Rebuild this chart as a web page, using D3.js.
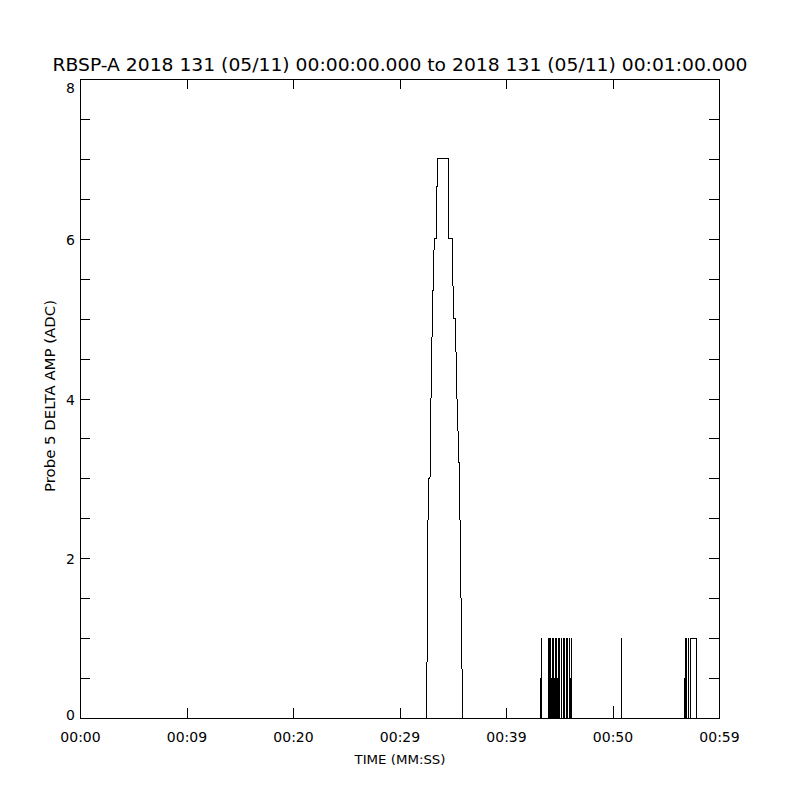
<!DOCTYPE html>
<html>
<head>
<meta charset="utf-8">
<script src="https://cdn.jsdelivr.net/npm/d3@7"></script>
<style>
  body { margin: 0; background: #fff; }
  text { font-family: "DejaVu Sans", sans-serif; fill: #000; }
</style>
</head>
<body>
<div id="chart"></div>
<script>
// time in seconds after 00:00:00, amplitude in ADC
var peakTimes = [32.545, 32.629, 32.704, 32.864, 32.958, 33.080, 33.268, 33.474, 33.549,
                 34.582, 34.601, 34.958, 35.071, 35.239, 35.399, 35.634, 35.728, 35.822, 35.944]
var peakAmps  = [0, 1.5, 3, 3, 4, 5, 6, 6, 7,
                 7, 6, 6, 5, 5, 4, 3, 2, 1, 0]

// short single-sample spikes after the main peak
var spikeTimes = [43.19, 43.29, 43.93, 44.00, 44.07, 44.16, 44.25, 44.35, 44.46, 44.55,
                  44.63, 44.72, 44.82, 44.91, 45.02, 45.12, 45.19, 45.31, 45.40, 45.49,
                  45.59, 45.68, 45.77, 45.90, 45.99, 46.08,
                  50.08, 50.77, 50.83,
                  56.74, 56.84, 56.93, 57.06, 57.12]
var spikeAmps  = [0.5, 1, 1, 0.5, 1, 1, 0.5, 1, 1, 0.5,
                  1, 1, 0.5, 1, 1, 0.5, 1, 1, 0.5, 1,
                  1, 0.5, 1, 1, 0.5, 1,
                  0.15, 1, 0.5,
                  0.5, 1, 1, 1, 0.5]

// last block near 00:57
var blockTimes = [57.34, 57.34, 57.91, 57.91]
var blockAmps  = [0, 1, 1, 0]

var xTickValues = [0, 10, 20, 30, 40, 50, 60]
var xTickLabels = ["00:00", "00:09", "00:20", "00:29", "00:39", "00:50", "00:59"]
var yTickValues = [0, 0.5, 1, 1.5, 2, 2.5, 3, 3.5, 4, 4.5, 5, 5.5, 6, 6.5, 7, 7.5, 8]
var yLabelValues = [0, 2, 4, 6, 8]

var margin = { top: 79, right: 81, bottom: 82, left: 80 }
var width = 800 - margin.left - margin.right
var height = 800 - margin.top - margin.bottom

var svg = d3.select("#chart")
  .append("svg")
  .attr("width", 800)
  .attr("height", 800)

var g = svg.append("g")
  .attr("transform", "translate(" + margin.left + "," + margin.top + ")")

var x = d3.scaleLinear().domain([0, 60]).range([0, width])
var y = d3.scaleLinear().domain([0, 8]).range([height, 0])

// axes, ticks pointing inside
var xAxis = d3.axisBottom(x)
  .tickValues(xTickValues)
  .tickSize(-10)
  .tickPadding(14)
  .tickFormat(function (d, i) { return xTickLabels[i] })

g.append("g")
  .attr("transform", "translate(0," + height + ")")
  .call(xAxis)

g.append("g")
  .call(d3.axisTop(x).tickValues(xTickValues).tickSize(-10).tickFormat(""))

var yAxis = d3.axisLeft(y)
  .tickValues(yTickValues)
  .tickSize(-10)
  .tickPadding(5)
  .tickFormat(function (d) { return yLabelValues.indexOf(d) >= 0 ? d3.format("d")(d) : "" })

var gy = g.append("g").call(yAxis)

g.append("g")
  .attr("transform", "translate(" + width + ",0)")
  .call(d3.axisRight(y).tickValues(yTickValues).tickSize(-10).tickFormat(""))

g.selectAll(".domain").remove()
g.selectAll(".tick line")
  .attr("stroke", "#000")
  .attr("shape-rendering", "crispEdges")
g.selectAll(".tick text")
  .style("font-size", "14px")
  .style("font-family", "DejaVu Sans, sans-serif")
  .attr("fill", "#000")

// nudge top and bottom y labels like the original
gy.selectAll(".tick text")
  .attr("dy", function (d) {
    if (d == 8) return "0.95em"
    if (d == 0) return "0.1em"
    return "0.4em"
  })

// plot frame, on the same half pixels as the axis ticks
g.append("rect")
  .attr("x", 0.5)
  .attr("y", 0.5)
  .attr("width", width)
  .attr("height", height)
  .attr("fill", "none")
  .attr("stroke", "#000")
  .attr("shape-rendering", "crispEdges")

var line = d3.line()
  .x(function (d) { return x(d[0]) })
  .y(function (d) { return y(d[1]) })

var peak = peakTimes.map(function (t, i) { return [t, peakAmps[i]] })
var block = blockTimes.map(function (t, i) { return [t, blockAmps[i]] })

g.append("path")
  .datum(peak)
  .attr("d", line)
  .attr("fill", "none")
  .attr("stroke", "#000")
  .attr("stroke-width", 1)
  .attr("shape-rendering", "crispEdges")

g.append("path")
  .datum(block)
  .attr("d", line)
  .attr("fill", "none")
  .attr("stroke", "#000")
  .attr("stroke-width", 1)
  .attr("shape-rendering", "crispEdges")

g.selectAll(".spike")
  .data(spikeTimes)
  .enter()
  .append("line")
  .attr("class", "spike")
  .attr("x1", function (d) { return Math.round(x(d)) + 0.5 })
  .attr("x2", function (d) { return Math.round(x(d)) + 0.5 })
  .attr("y1", y(0) + 0.5)
  .attr("y2", function (d, i) { return y(spikeAmps[i]) })
  .attr("stroke", "#000")
  .attr("shape-rendering", "crispEdges")

// titles
svg.append("text")
  .attr("x", 400)
  .attr("y", 71)
  .attr("text-anchor", "middle")
  .attr("textLength", 695)
  .attr("lengthAdjust", "spacingAndGlyphs")
  .style("font-size", "18px")
  .text("RBSP-A 2018 131 (05/11) 00:00:00.000 to 2018 131 (05/11) 00:01:00.000")

svg.append("text")
  .attr("x", 400)
  .attr("y", 764)
  .attr("text-anchor", "middle")
  .attr("textLength", 91)
  .attr("lengthAdjust", "spacingAndGlyphs")
  .style("font-size", "13px")
  .text("TIME (MM:SS)")

svg.append("text")
  .attr("transform", "translate(55,396) rotate(-90)")
  .attr("text-anchor", "middle")
  .attr("textLength", 192)
  .attr("lengthAdjust", "spacingAndGlyphs")
  .style("font-size", "13.5px")
  .text("Probe 5 DELTA AMP (ADC)")
</script>
</body>
</html>
